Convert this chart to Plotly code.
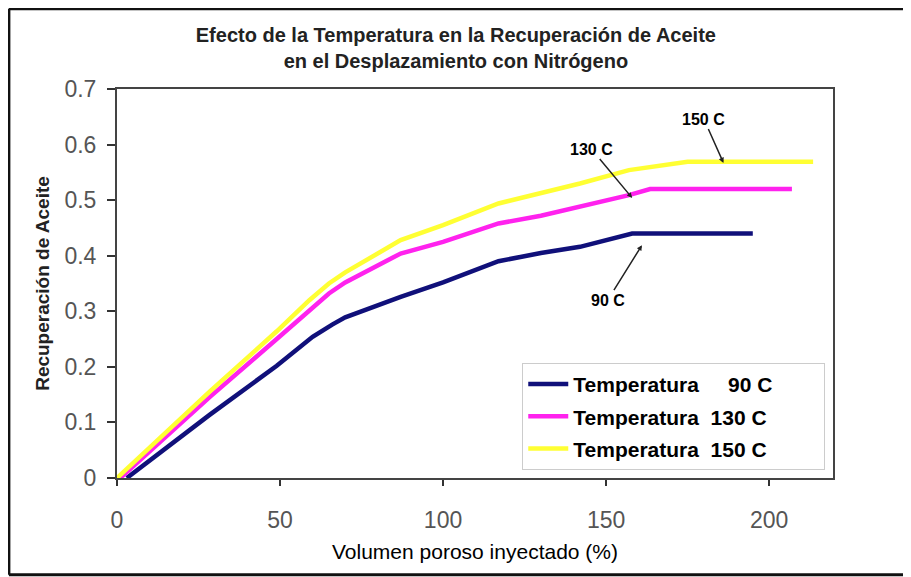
import plotly.graph_objects as go

# Volumen poroso inyectado (%) vs recuperación de aceite
x_90 = [3, 28.5, 49, 60, 66, 70, 87, 100, 117, 130, 142, 158, 195]
y_90 = [0, 0.114, 0.202, 0.254, 0.276, 0.289, 0.326, 0.352, 0.39, 0.405, 0.416, 0.44, 0.44]

x_130 = [1, 28.5, 49, 59, 65, 70, 87, 100, 117, 130, 142, 157, 163.5, 207]
y_130 = [0, 0.146, 0.25, 0.3, 0.332, 0.352, 0.404, 0.425, 0.458, 0.472, 0.488, 0.509, 0.52, 0.52]

x_150 = [0, 28.5, 49, 59, 65, 70, 87, 100, 117, 130, 142, 157, 175, 213.5]
y_150 = [0, 0.156, 0.264, 0.32, 0.35, 0.37, 0.428, 0.455, 0.494, 0.512, 0.53, 0.554, 0.569, 0.569]

pad = "&nbsp;" * 8
series_names = [f"<b>Temperatura&nbsp;&nbsp;&nbsp;&nbsp;&nbsp;90 C</b>{pad}",
                f"<b>Temperatura&nbsp;&nbsp;130 C</b>{pad}",
                f"<b>Temperatura&nbsp;&nbsp;150 C</b>{pad}"]
series_colors = ["#10107a", "#ff22ee", "#ffff33"]

# etiquetas con flecha: (texto, punto x, punto y, texto x, texto y)
labels = [
    ("150 C", 186, 0.567, 180, 0.646),
    ("130 C", 158, 0.504, 145.5, 0.592),
    ("90 C", 161, 0.419, 150.5, 0.32),
]

fig = go.Figure()
for i, (xs, ys, name, color) in enumerate(zip([x_90, x_130, x_150], [y_90, y_130, y_150],
                                              series_names, series_colors)):
    fig.add_trace(go.Scatter(x=xs, y=ys, mode="lines", name=name, legendgroup=str(i),
                             line=dict(color=color, width=4.5)))

for text, px, py, tx, ty in labels:
    fig.add_annotation(x=px, y=py, ax=tx, ay=ty, axref="x", ayref="y",
                       text=f"<b>{text}</b>", showarrow=True,
                       arrowhead=2, arrowsize=0.7, arrowwidth=1.5,
                       arrowcolor="#222", standoff=0,
                       font=dict(family="Arial", size=16, color="#000"))

tick_font = dict(family="Arial", size=23, color="#555")

fig.update_xaxes(range=[0, 219.6], tickvals=[0, 50, 100, 150, 200],
                 ticks="outside", ticklen=6, tickcolor="#333", tickwidth=1.5,
                 ticklabelstandoff=14,
                 showline=True, mirror=True, linecolor="#444", linewidth=2,
                 showgrid=False, zeroline=False, tickfont=tick_font,
                 title=dict(text="Volumen poroso inyectado (%)", standoff=13,
                            font=dict(family="Arial", size=21, color="#000")))
fig.update_yaxes(range=[0, 0.7], dtick=0.1, tickformat=".1~f",
                 ticks="outside", ticklen=8, tickcolor="#333", tickwidth=1.5,
                 ticklabelstandoff=6,
                 showline=True, mirror=True, linecolor="#444", linewidth=2,
                 showgrid=False, zeroline=False, tickfont=tick_font,
                 title=dict(text="<b>Recuperación de Aceite</b>", standoff=10,
                            font=dict(family="Arial", size=19, color="#222")))

# marco exterior de la imagen (arriba, izquierda, abajo)
for x0, y0, x1, y1 in [(-0.151, 1.206, 1.2, 1.206), (-0.151, 1.206, -0.151, -0.249),
                       (-0.151, -0.249, 1.2, -0.249)]:
    fig.add_shape(type="line", xref="paper", yref="paper", x0=x0, y0=y0,
                  x1=x1, y1=y1, line=dict(color="#111", width=3))

# la página añade 8 px de margen; el área de trazado queda en 117-833 x 89-478
fig.update_layout(
    width=903, height=569,
    margin=dict(l=109, r=78, t=81, b=99),
    paper_bgcolor="white", plot_bgcolor="white",
    title=dict(text="<b>Efecto de la Temperatura en la Recuperación de Aceite<br>"
                    "en el Desplazamiento con Nitrógeno</b>",
               x=0.496, xref="container", y=0.94, yanchor="top",
               font=dict(family="Arial", size=20, color="#222")),
    legend=dict(x=0.566, y=0.296, xanchor="left", yanchor="top",
                bgcolor="white", bordercolor="#ccc", borderwidth=1,
                font=dict(family="Arial", size=21, color="#000"),
                itemwidth=40, tracegroupgap=2),
    showlegend=True,
)

fig.write_html("out.html")
